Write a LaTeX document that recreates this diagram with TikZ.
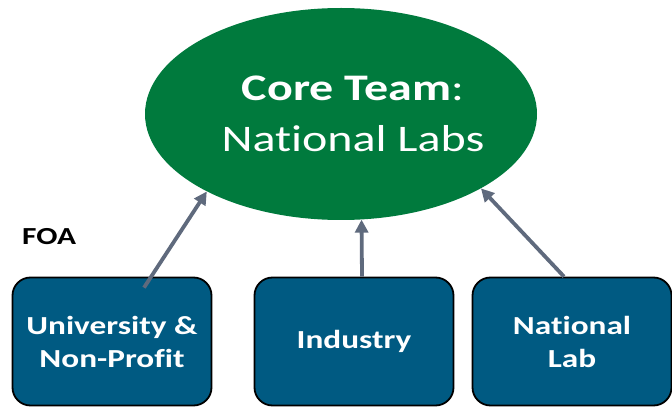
\documentclass[tikz,border=0pt]{standalone}
\usepackage{fontspec}
\setmainfont{Carlito}[FakeStretch=1.28, Ligatures=NoCommon]
\usepackage{xcolor}
\usetikzlibrary{shapes.geometric,arrows.meta,positioning,calc}

\definecolor{coregreen}{HTML}{007A3D}
\definecolor{partnerblue}{HTML}{005A82}
\definecolor{linkgrey}{HTML}{5F6A7D}

\tikzset{
    partner/.style={draw=black, line width=1.8pt, rectangle, rounded corners=18pt, fill=partnerblue,
        minimum width=199pt, minimum height=128pt, inner sep=0pt, align=center, text=white,
        font=\fontsize{26}{33}\selectfont\bfseries},
    link/.style={draw=linkgrey, line width=3.8pt, -{Triangle[length=13pt,width=13pt]}}
}

\begin{document}
\begin{tikzpicture}[x=1pt, y=1pt]
\useasboundingbox (0,0) rectangle (672,410);
\node[ellipse, fill=coregreen, minimum width=392pt, minimum height=212pt, inner sep=0pt] (core) at (341,296) {};
\node[text=white, align=center, font=\fontsize{37.5}{51}\selectfont] (coretext) at ($(core)+(12,0)$)
    {\textbf{Core Team}:\\National Labs};
\node[partner] (uni) at (112,68.5) {University \&\\Non-Profit};
\node[partner] (ind) at (354,68.5) {Industry};
\node[partner] (lab) at (572,68.5) {National\\Lab};
\node[anchor=base west, inner sep=0pt, font=\fontsize{24.5}{28}\selectfont\bfseries] (foa) at (22,165) {FOA};
% links to the core team
\draw[link] ([xshift=32pt,yshift=-11pt]uni.north) -- (core.210);
\draw[link] ([xshift=8pt]ind.north) -- (core.281);
\draw[link] ([xshift=-8pt]lab.north) -- (core.332);
\end{tikzpicture}
\end{document}
